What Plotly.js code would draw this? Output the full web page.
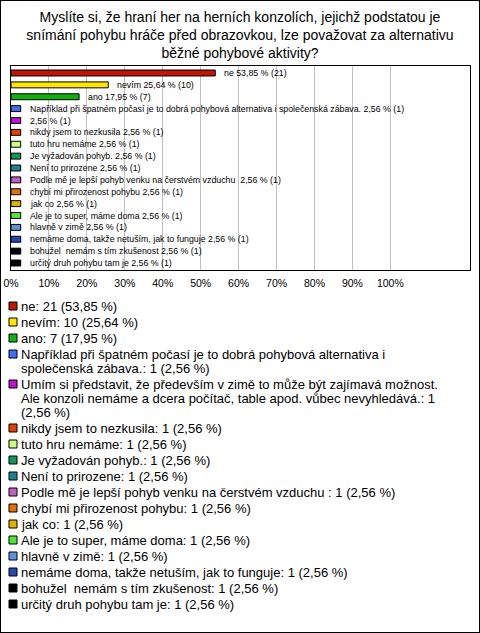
<!DOCTYPE html>
<html>
<head>
<meta charset="utf-8">
<script src="https://cdn.plot.ly/plotly-3.0.1.min.js"></script>
<style>
  html, body { margin: 0; padding: 0; background: #fff; }
  #chart { width: 478px; height: 631px; border: 1px solid #000; }
</style>
</head>
<body>
<div id="chart"></div>
<script>
// ---- data ----
const chartTitle = "Myslíte si, že hraní her na herních konzolích, jejichž podstatou je<br>snímání pohybu hráče před obrazovkou, lze považovat za alternativu<br>běžné pohybové aktivity?";

const answers = [
  "ne",
  "nevím",
  "ano",
  "Například při špatném počasí je to dobrá pohybová alternativa i společenská zábava.",
  "Umím si představit, že především v zimě to může být zajímavá možnost. Ale konzoli nemáme a dcera počítač, table apod. vůbec nevyhledává.",
  "nikdy jsem to nezkusila",
  "tuto hru nemáme",
  "Je vyžadován pohyb.",
  "Není to prirozene",
  "Podle mě je lepší pohyb venku na čerstvém vzduchu ",
  "chybí mi přirozenost pohybu",
  "jak co",
  "Ale je to super, máme doma",
  "hlavně v zimě",
  "nemáme doma, takže netuším, jak to funguje",
  "bohužel  nemám s tím zkušenost",
  "určitý druh pohybu tam je"
];

const barLabels = [
  "ne",
  "nevím",
  "ano",
  "Například při špatném počasí je to dobrá pohybová alternativa i společenská zábava.",
  "",
  "nikdy jsem to nezkusila",
  "tuto hru nemáme",
  "Je vyžadován pohyb.",
  "Není to prirozene",
  "Podle mě je lepší pohyb venku na čerstvém vzduchu ",
  "chybí mi přirozenost pohybu",
  "jak co",
  "Ale je to super, máme doma",
  "hlavně v zimě",
  "nemáme doma, takže netuším, jak to funguje",
  "bohužel  nemám s tím zkušenost",
  "určitý druh pohybu tam je"
];

const counts = [21, 10, 7, 1, 1, 1, 1, 1, 1, 1, 1, 1, 1, 1, 1, 1, 1];
const percents = [53.85, 25.64, 17.95, 2.56, 2.56, 2.56, 2.56, 2.56, 2.56, 2.56, 2.56, 2.56, 2.56, 2.56, 2.56, 2.56, 2.56];

const colors = [
  "#c01800", "#ffe800", "#10b010", "#4070f0", "#c010d0", "#e04000",
  "#c8ff80", "#109858", "#208090", "#c060c0", "#e07000", "#e0b000",
  "#50e830", "#6090e0", "#2848b0", "#000000", "#000000"
];

const tickValues = [0, 10, 20, 30, 40, 50, 60, 70, 80, 90, 100];
const tickLabels = ["0%", "10%", "20%", "30%", "40%", "50%", "60%", "70%", "80%", "90%", "100%"];

// ---- helpers ----
const fmt = v => v.toFixed(2).replace(".", ",");
const FONT = "Liberation Sans, Arial, sans-serif";

function wrap(text, maxChars) {
  const words = text.split(" ");
  const lines = [];
  let cur = "";
  words.forEach((w, k) => {
    const cand = k === 0 ? w : cur + " " + w;
    if (cand.length > maxChars && cur.length > 0) {
      lines.push(cur);
      cur = w;
    } else {
      cur = cand;
    }
  });
  lines.push(cur);
  return lines;
}

// ---- bar trace ----
const trace = {
  type: "bar",
  orientation: "h",
  x: percents,
  y: answers,
  width: 0.5,
  marker: { color: colors, line: { color: "#000", width: 1 } },
  hoverinfo: "none",
  cliponaxis: false
};

// ---- bar value labels (placed through the axes) ----
const annotations = answers.map((a, i) => ({
  xref: "x", yref: "y",
  x: percents[i], y: a,
  xanchor: "left", yanchor: "middle",
  xshift: 7,
  showarrow: false,
  text: (barLabels[i] + " " + fmt(percents[i]) + " % (" + counts[i] + ")").trim(),
  font: { family: FONT, size: 8.8, color: "#000" }
}));

// ---- legend below (text lines + swatches) ----
const shapes = [];
const LINE = 14, GAP = 2;
let d = 36;
answers.forEach((a, i) => {
  const full = a + ": " + counts[i] + " (" + fmt(percents[i]) + " %)";
  const lines = wrap(full, 70);
  shapes.push({
    type: "rect",
    xref: "paper", yref: "paper",
    xsizemode: "pixel", ysizemode: "pixel",
    xanchor: 0, yanchor: 0,
    x0: -2, x1: 6,
    y0: -(d + 4), y1: -(d - 4),
    fillcolor: colors[i],
    line: { color: "#000", width: 1 }
  });
  lines.forEach((ln, j) => {
    annotations.push({
      xref: "paper", yref: "paper",
      x: 0, y: 0,
      xanchor: "left", yanchor: "middle",
      xshift: 8, yshift: -(d + j * LINE),
      showarrow: false,
      text: ln,
      font: { family: FONT, size: 13, color: "#000" }
    });
  });
  d += lines.length * LINE + GAP;
});

const layout = {
  width: 478,
  height: 631,
  margin: { l: 10, r: 9, t: 65, b: 362, pad: 0 },
  paper_bgcolor: "#fff",
  plot_bgcolor: "#fff",
  showlegend: false,
  font: { family: FONT, color: "#000" },
  title: {
    text: chartTitle,
    font: { family: FONT, size: 14, color: "#000" },
    x: 0.5, xref: "container", xanchor: "center",
    y: 1 - 21 / 631, yref: "container", yanchor: "top"
  },
  barmode: "overlay",
  xaxis: {
    range: [0, 121],
    tickvals: tickValues,
    ticktext: tickLabels,
    showgrid: true,
    gridcolor: "#c0c0c0",
    gridwidth: 1,
    zeroline: false,
    showline: true,
    mirror: true,
    linecolor: "#000",
    linewidth: 1,
    ticks: "",
    ticklabelstandoff: 3,
    tickfont: { family: FONT, size: 10.5, color: "#000" },
    fixedrange: true
  },
  yaxis: {
    type: "category",
    categoryorder: "array",
    categoryarray: answers,
    autorange: "reversed",
    showticklabels: false,
    showgrid: false,
    zeroline: false,
    showline: true,
    mirror: true,
    linecolor: "#000",
    linewidth: 1,
    ticks: "",
    fixedrange: true
  },
  annotations: annotations,
  shapes: shapes
};

Plotly.newPlot("chart", [trace], layout, { staticPlot: true, displayModeBar: false });
</script>
</body>
</html>
